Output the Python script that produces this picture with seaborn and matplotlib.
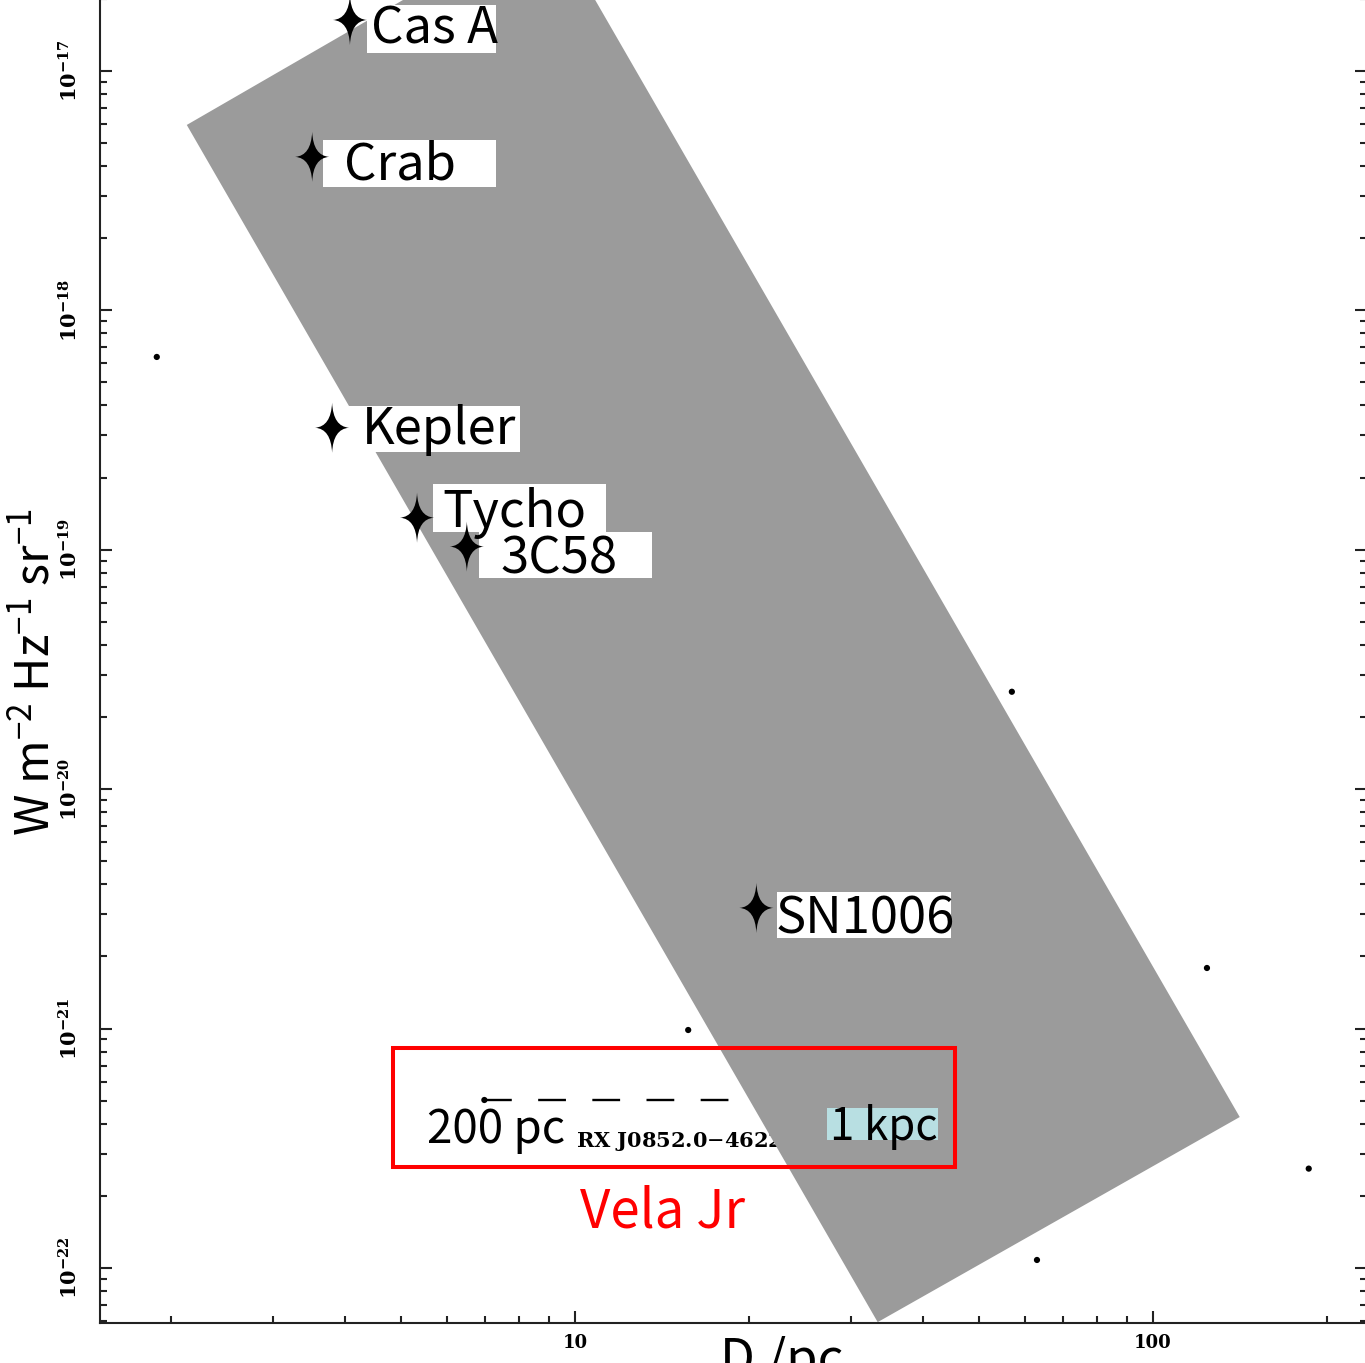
import numpy as np
import pandas as pd
import matplotlib
matplotlib.use("Agg")
import matplotlib.pyplot as plt
import seaborn as sns
from matplotlib.path import Path
from matplotlib.patches import Polygon, Rectangle
from matplotlib.transforms import Affine2D, ScaledTranslation
from matplotlib.ticker import LogLocator, NullFormatter

# ---------------- data ----------------
snr_names = ["Cas A", "Crab", "Kepler", "Tycho", "3C58", "SN1006"]
snr_diam = [4.08, 3.51, 3.80, 5.33, 6.50, 20.6]            # D / pc
snr_sb = [1.63e-17, 4.37e-18, 3.23e-19, 1.36e-19, 1.03e-19, 3.19e-21]

bg_diam = [1.89, 57.0, 124.0, 15.7, 186.0, 63.0, 6.97]
bg_sb = [6.38e-19, 2.55e-20, 1.79e-21, 9.86e-22, 2.6e-22, 1.08e-22, 5.03e-22]

vela_diam = [6.97, 34.9]          # 200 pc -> 1 kpc
vela_sb = [5.03e-22, 5.03e-22]

band_diam = [2.13, 8.95, 141.3, 33.4]
band_sb = [5.94e-18, 4.4e-17, 4.27e-22, 5.94e-23]

y_ticks = [1e-22, 1e-21, 1e-20, 1e-19, 1e-18, 1e-17]
y_ticklabels = [r"$\mathregular{10^{-22}}$", r"$\mathregular{10^{-21}}$", r"$\mathregular{10^{-20}}$",
                r"$\mathregular{10^{-19}}$", r"$\mathregular{10^{-18}}$", r"$\mathregular{10^{-17}}$"]
x_ticks = [10, 100]
x_ticklabels = ["10", "100"]

# label box styling: (box dx, box dy, box w, box h, text dx, text baseline dy) in pixels, y down
label_layout = [
    (17, -15, 129, 48, 21, 24),
    (11, -17, 173, 47, 32, 23),
    (15, -22, 173, 46, 30, 16),
    (16, -34, 173, 48, 25, 9),
    (12, -15, 173, 46, 34, 27),
    (21, -16, 174, 46, 19, 26),
]

snr_df = pd.DataFrame({"D": snr_diam, "S": snr_sb, "name": snr_names})
bg_df = pd.DataFrame({"D": bg_diam, "S": bg_sb})
vela_df = pd.DataFrame({"D": vela_diam, "S": vela_sb})

# ---------------- style ----------------
sns.set_style("white")
plt.rcParams.update({
    "lines.scale_dashes": False,
    "text.color": "black",
    "xtick.color": "black",
    "ytick.color": "black",
    "xtick.bottom": True,
    "ytick.left": True,
})
LABEL_FONT = ["Noto Sans CJK JP", "DejaVu Sans"]
TICK_FONT = "DejaVu Serif"
LBL_SIZE = 36.5

W, H = 1365, 1363
fig = plt.figure(figsize=(W / 100, H / 100), dpi=100)
ax = fig.add_axes([100 / W, 40 / H, 1267 / W, 1348 / H])
ax.set_xscale("log")
ax.set_yscale("log")
ax.set_xlim(1.5074, 234.6)
ax.set_ylim(10 ** -22.2298, 10 ** -16.6)

# original plot elements (underneath)
sns.scatterplot(data=bg_df, x="D", y="S", ax=ax, s=20, color="black",
                edgecolor="none", zorder=2, legend=False)
sns.lineplot(data=vela_df, x="D", y="S", ax=ax, color="black", linewidth=1.7,
             dashes=False, zorder=2, legend=False)
ax.lines[-1].set_dashes((20, 19))
ax.text(10.04, 3.2e-22, r"RX J0852.0$-$4622", fontsize=15, fontfamily=TICK_FONT,
        fontweight="bold", ha="left", va="baseline", zorder=2)

# grey band
band = Polygon(np.column_stack([band_diam, band_sb]), closed=True,
               facecolor="#9b9b9b", edgecolor="none", zorder=3)
ax.add_patch(band)

# Vela Jr box and texts
ax.add_patch(Rectangle((4.84, 2.64e-22), 45.4 - 4.84, 8.3e-22 - 2.64e-22,
                       facecolor="none", edgecolor="#ff0000", linewidth=2.9, zorder=5))
ax.add_patch(Rectangle((27.3, 3.43e-22), 42.5 - 27.3, 4.66e-22 - 3.43e-22,
                       facecolor="#b8dfe2", edgecolor="none", zorder=5))
ax.text(5.54, 3.33e-22, "200 pc", fontsize=33, fontfamily=LABEL_FONT,
        ha="left", va="baseline", zorder=6)
ax.text(27.6, 3.43e-22, "1 kpc", fontsize=31.5, fontfamily=LABEL_FONT,
        ha="left", va="baseline", zorder=6)
ax.text(10.2, 1.48e-22, "Vela Jr", fontsize=38, fontfamily=LABEL_FONT, color="#ff0000",
        ha="left", va="baseline", zorder=6)

# star markers (four-pointed sparkle)
c = 0.045
star_verts = [(0, 1), (c, c), (0.68, 0), (c, -c), (0, -1), (-c, -c), (-0.68, 0),
              (-c, c), (0, 1), (0, 1)]
star_codes = [Path.MOVETO] + [Path.CURVE3] * 8 + [Path.CLOSEPOLY]
star = Path(star_verts, star_codes)
sns.scatterplot(data=snr_df, x="D", y="S", ax=ax, marker=star, s=36 ** 2,
                color="black", edgecolor="none", zorder=8, legend=False)

# SNR labels with white boxes
for name, d, s, (bx, by, bw, bh, tx, ty) in zip(snr_names, snr_diam, snr_sb, label_layout):
    tr = Affine2D().scale(1, -1) + ScaledTranslation(d, s, ax.transData)
    ax.add_patch(Rectangle((bx, by), bw, bh, transform=tr, facecolor="white",
                           edgecolor="none", zorder=6))
    ax.text(tx, ty, name, transform=tr, fontsize=LBL_SIZE, fontfamily=LABEL_FONT,
            ha="left", va="baseline", zorder=7)

# axes styling
for sp in ax.spines.values():
    sp.set_linewidth(1.5)
    sp.set_color("#222222")
ax.set_xticks(x_ticks, labels=x_ticklabels)
ax.set_yticks(y_ticks, labels=y_ticklabels)
ax.xaxis.set_minor_locator(LogLocator(base=10, subs=np.arange(2, 10)))
ax.yaxis.set_minor_locator(LogLocator(base=10, subs=np.arange(2, 10), numticks=20))
ax.xaxis.set_minor_formatter(NullFormatter())
ax.yaxis.set_minor_formatter(NullFormatter())
ax.tick_params(which="both", direction="in", bottom=True, left=True, top=True, right=True,
               color="#222222", width=1.5)
ax.tick_params(which="major", length=8.6)
ax.tick_params(which="minor", length=5)
ax.tick_params(axis="x", pad=8, labelsize=13)
ax.tick_params(axis="y", pad=13, labelsize=15, labelrotation=90)
for lab in ax.get_xticklabels() + ax.get_yticklabels():
    lab.set_fontfamily(TICK_FONT)
    lab.set_fontweight("bold")
for lab in ax.get_yticklabels():
    lab.set_va("center")
ax.set_xlabel("")
ax.set_ylabel("")

fig.text(36 / W, 1 - 672 / H,
         r"W m$\mathregular{^{-2}}$ Hz$\mathregular{^{-1}}$ sr$\mathregular{^{-1}}$",
         rotation=90, fontsize=34, fontfamily=LABEL_FONT, ha="center", va="center")
fig.text(720 / W, 1 - 1375 / H, "D /pc", fontsize=LBL_SIZE, fontfamily=LABEL_FONT,
         ha="left", va="baseline")

fig.savefig("out.png", dpi=100)
